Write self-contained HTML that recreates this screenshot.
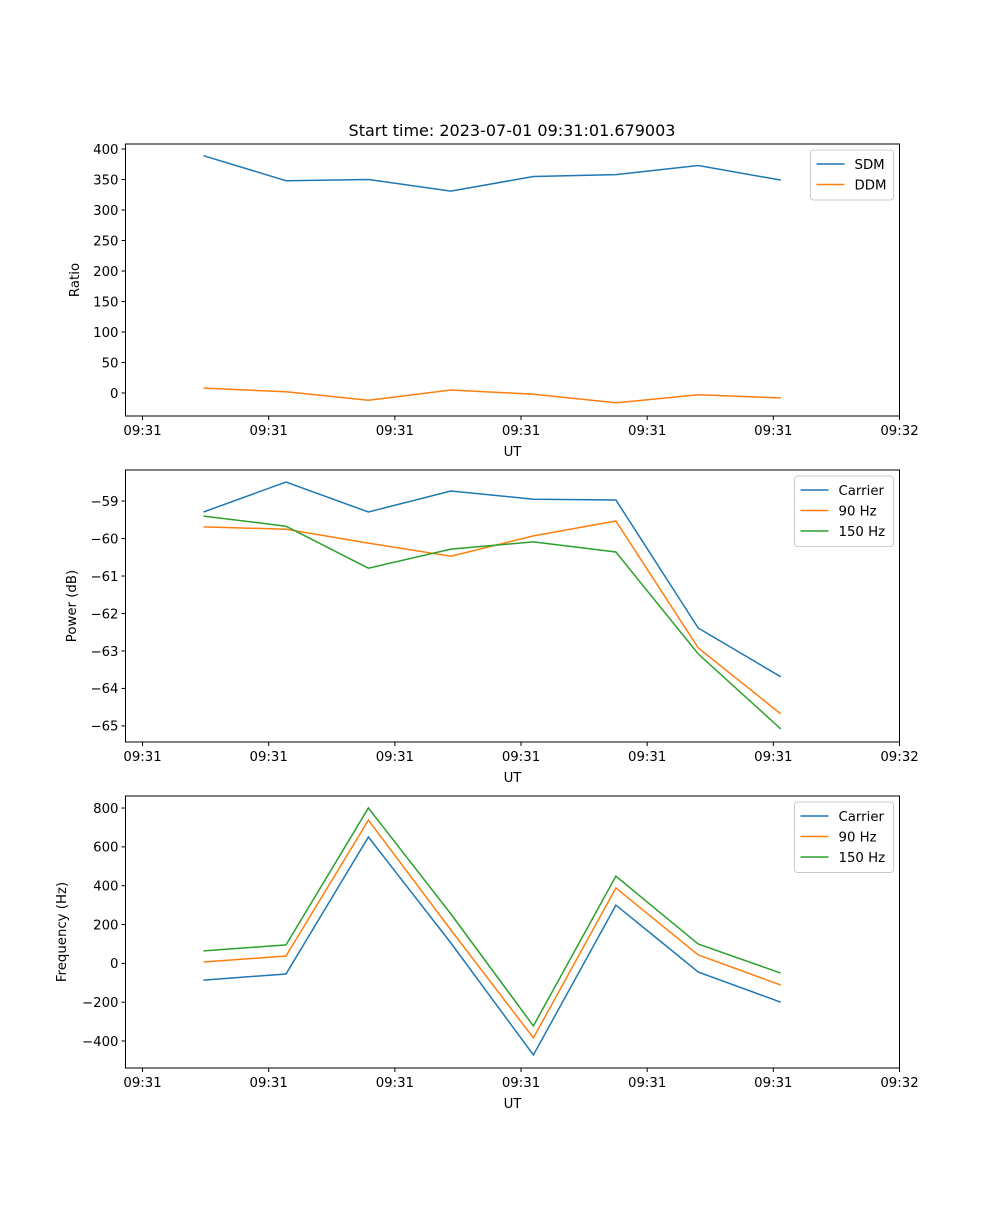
<!DOCTYPE html>
<html><head><meta charset="utf-8">
<style>
html,body{margin:0;padding:0;background:#fff;}
svg text{font-family:"DejaVu Sans","Liberation Sans",sans-serif;fill:#000;}
</style></head>
<body>
<svg id="fig" width="1000" height="1200" xmlns="http://www.w3.org/2000/svg">
<rect width="1000" height="1200" fill="#fff"/>
<text x="512" y="136" font-size="16" text-anchor="middle">Start time: 2023-07-01 09:31:01.679003</text>
</svg>
<script>
// shared time axis (seconds after 09:31:00)
const times = [4.83, 11.37, 17.9, 24.44, 30.98, 37.52, 44.05, 50.59];
const xTickVals = [0, 10, 20, 30, 40, 50, 60];
const xTickLabels = ["09:31","09:31","09:31","09:31","09:31","09:31","09:32"];
// panel 1
const sdm = [389, 348, 350, 331, 355, 358, 373, 349];
const ddm = [8, 2, -12, 5, -2, -16, -3, -8];
const ratioTicks = [0, 50, 100, 150, 200, 250, 300, 350, 400];
// panel 2
const powCarrier = [-59.29, -58.49, -59.29, -58.73, -58.95, -58.97, -62.39, -63.69];
const pow90 = [-59.69, -59.75, -60.12, -60.47, -59.93, -59.53, -62.92, -64.68];
const pow150 = [-59.40, -59.67, -60.79, -60.28, -60.09, -60.36, -63.08, -65.08];
const powTicks = [-65, -64, -63, -62, -61, -60, -59];
// panel 3
const freqCarrier = [-86, -55, 651, 105, -472, 300, -45, -200];
const freq90 = [7, 38, 738, 172, -384, 388, 43, -112];
const freq150 = [64, 95, 800, 254, -322, 449, 99, -50];
const freqTicks = [-400, -200, 0, 200, 400, 600, 800];

const NS = "http://www.w3.org/2000/svg";
const svg = document.getElementById("fig");
const C = {blue:"#1f77b4", orange:"#ff7f0e", green:"#2ca02c"};
const L = 125.5, R = 899.5;
const xMin = -1.35, xMax = 60;
function xs(v){ return L + (v - xMin) / (xMax - xMin) * (R - L); }

function mk(tag, attrs, parent){
  const e = document.createElementNS(NS, tag);
  for (const k in attrs) e.setAttribute(k, attrs[k]);
  (parent || svg).appendChild(e);
  return e;
}

function panel(name, top, bottom, yMin, yMax, yTicks, ylabel, series, legendW){
  const g = mk("g", {});
  
  
  const ys = v => bottom - (v - yMin) / (yMax - yMin) * (bottom - top);
  // series
  series.forEach(s => {
    const p = mk("polyline", {points: times.map((t,i)=>xs(t).toFixed(1)+","+ys(s.vals[i]).toFixed(1)).join(" "), fill:"none", stroke:s.color, "stroke-width":1.5}, g);
    
    
  });
  // frame
  const fr = mk("rect", {x:L, y:top, width:R-L, height:bottom-top, fill:"none", stroke:"#000", "stroke-width":1}, g);
  
  
  // x ticks
  xTickVals.forEach((v,i) => {
    const x = xs(v);
    mk("line", {x1:x, x2:x, y1:bottom, y2:bottom+4, stroke:"#000"}, g);
    const t = mk("text", {x:x, y:bottom+19, "font-size":13.3, "text-anchor":"middle"}, g);
    t.textContent = xTickLabels[i];
    
    
  });
  const xl = mk("text", {x:(L+R)/2, y:bottom+40, "font-size":13.3, "text-anchor":"middle"}, g);
  xl.textContent = "UT";
  
  
  // y ticks
  yTicks.forEach(v => {
    const y = ys(v);
    mk("line", {x1:L-4, x2:L, y1:y, y2:y, stroke:"#000"}, g);
    const t = mk("text", {x:L-7, y:y+4.8, "font-size":13.3, "text-anchor":"end"}, g);
    t.textContent = v < 0 ? "\u2212" + Math.abs(v) : String(v);
    
    
  });
  const yl = mk("text", {x:0, y:0, "font-size":13.3, "text-anchor":"middle", transform:`translate(${ylabel.x},${(top+bottom)/2}) rotate(-90)`}, g);
  yl.textContent = ylabel.text;
  
  
  // legend
  const lx = R - 6 - legendW, ly = top + 6;
  const lh = 9 + series.length * 20.5;
  const lg = mk("g", {}, g);
  
  
  mk("rect", {x:lx, y:ly, width:legendW, height:lh, rx:3, fill:"#fff", "fill-opacity":0.8, stroke:"#ccc"}, lg);
  series.forEach((s,i) => {
    const yy = ly + 14 + i*20.5;
    mk("line", {x1:lx+6, x2:lx+34, y1:yy, y2:yy, stroke:s.color, "stroke-width":1.5}, lg);
    const t = mk("text", {x:lx+44, y:yy+5, "font-size":13.3}, lg);
    t.textContent = s.label;
    
    
  });
}

panel("ratio-panel", 144, 416, -37.7, 408.2, ratioTicks, {x:79, text:"Ratio"},
  [{id:"sdm-line", label:"SDM", vals:sdm, color:C.blue},
   {id:"ddm-line", label:"DDM", vals:ddm, color:C.orange}], 83);
panel("power-panel", 470, 742, -65.43, -58.17, powTicks, {x:76, text:"Power (dB)"},
  [{id:"power-carrier-line", label:"Carrier", vals:powCarrier, color:C.blue},
   {id:"power-90hz-line", label:"90 Hz", vals:pow90, color:C.orange},
   {id:"power-150hz-line", label:"150 Hz", vals:pow150, color:C.green}], 99);
panel("frequency-panel", 796, 1068, -539, 862, freqTicks, {x:66, text:"Frequency (Hz)"},
  [{id:"freq-carrier-line", label:"Carrier", vals:freqCarrier, color:C.blue},
   {id:"freq-90hz-line", label:"90 Hz", vals:freq90, color:C.orange},
   {id:"freq-150hz-line", label:"150 Hz", vals:freq150, color:C.green}], 99);
</script>
</body></html>
